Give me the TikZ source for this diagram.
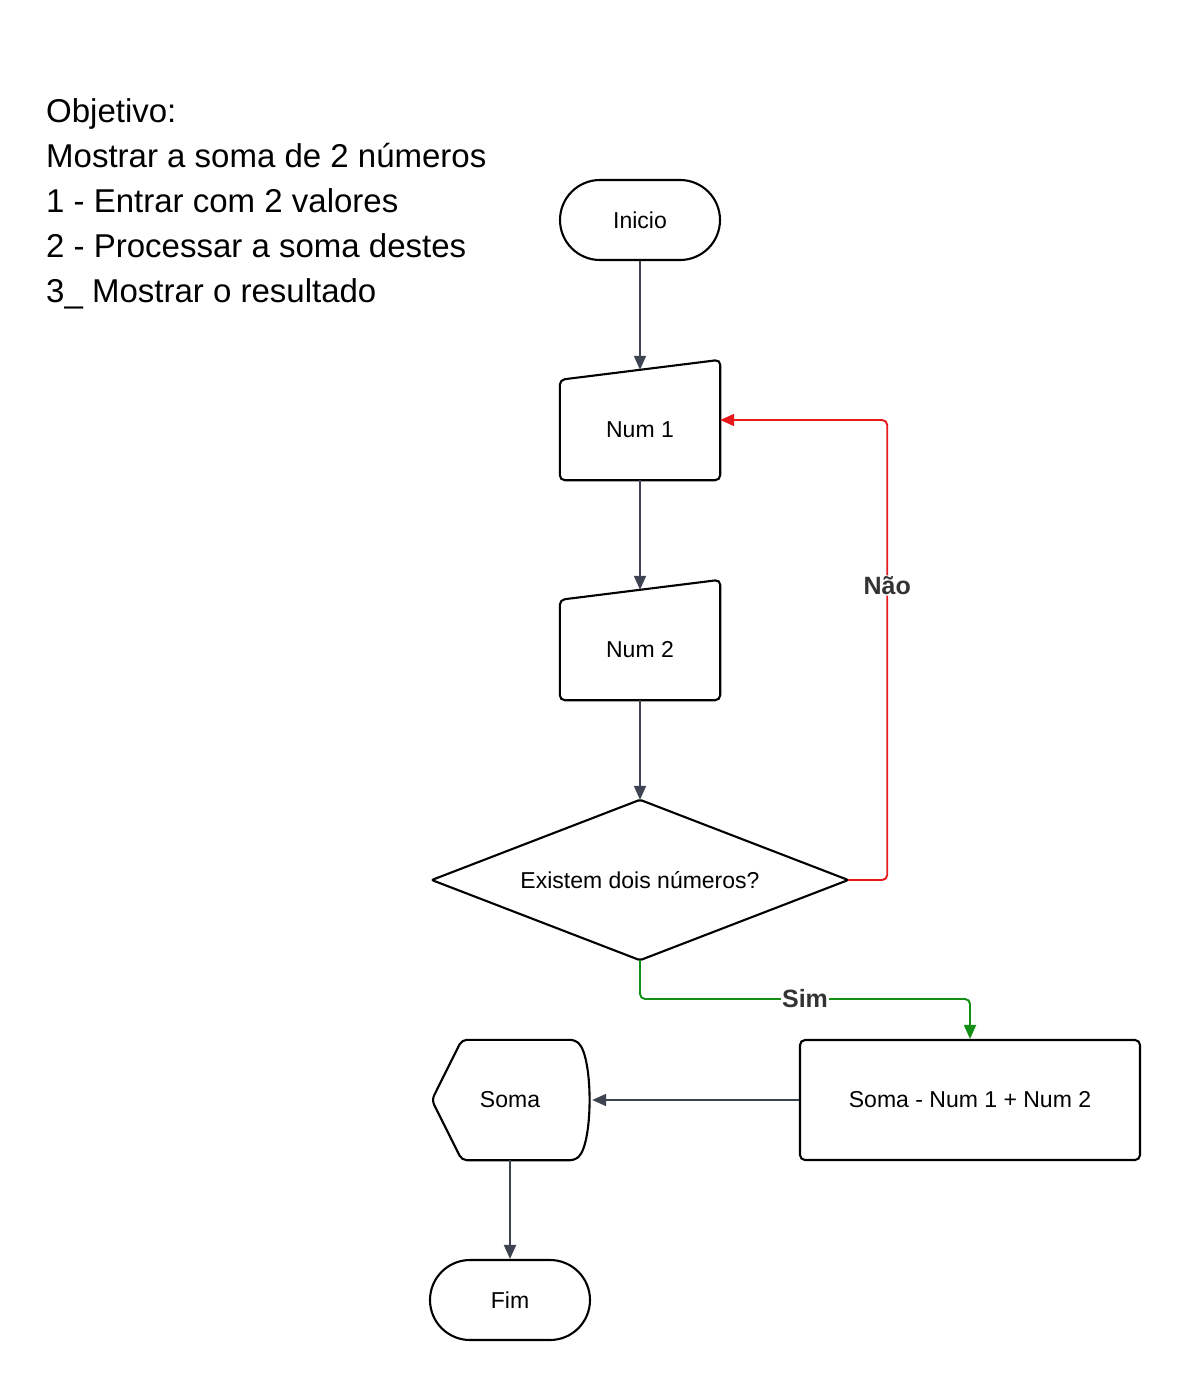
\documentclass[tikz,border=0pt]{standalone}
\usepackage{fontspec}
\setmainfont{Liberation Sans}
\usetikzlibrary{arrows.meta}
\definecolor{linegray}{HTML}{3D4350}
\definecolor{naored}{HTML}{E8191C}
\definecolor{simgreen}{HTML}{138F13}
\definecolor{labelgray}{HTML}{333333}

\tikzset{
  shapetext/.style={inner sep=0pt,font=\fontsize{23}{27}\selectfont},
  outline/.style={draw=black,line width=2.1pt,rounded corners=5pt},
  terminal/.style={shapetext,outline,minimum width=160pt,minimum height=80pt,rounded corners=40pt},
  process/.style={shapetext,outline,minimum width=340pt,minimum height=120pt},
  flow/.style={linegray,line width=1.9pt,-{Triangle[length=14pt,width=12pt]}},
  edgelabel/.style={fill=white,inner sep=1pt,text=labelgray,font=\fontsize{25}{30}\selectfont\bfseries}
}

\begin{document}
\begin{tikzpicture}[x=1pt,y=-1pt]
\useasboundingbox[fill=white] (0,0) rectangle (1180,1380);

% objetivo
\node[anchor=north west,inner sep=0pt,align=left,font=\fontsize{33}{45}\selectfont] (obj) at (46,98)
  {Objetivo:\\Mostrar a soma de 2 números\\1 - Entrar com 2 valores\\2 - Processar a soma destes\\3\_ Mostrar o resultado};

% nodes
\node[terminal] (ini) at (640,220) {Inicio};
\node[shapetext,minimum width=160pt,minimum height=100pt] (num1) at (640,430) {Num 1};
\node[shapetext,minimum width=160pt,minimum height=100pt] (num2) at (640,650) {Num 2};
\node[shapetext,minimum width=416pt,minimum height=160pt] (dec) at (640,880) {Existem dois números?};
\node[process] (soma) at (970,1100) {Soma - Num 1 + Num 2};
\node[shapetext,minimum width=160pt,minimum height=120pt] (disp) at (510,1100) {Soma};
\node[terminal] (fim) at (510,1300) {Fim};

% entradas manuais
\foreach \n in {num1,num2}{
  \draw[outline] (\n.south west) -- (\n.north west) -- ([yshift=20pt]\n.north east) -- (\n.south east) -- cycle;
  \coordinate (\n top) at ([yshift=10pt]\n.north);
}
% decisao
\draw[outline,rounded corners=2pt] (dec.west) -- (dec.north) -- (dec.east) -- (dec.south) -- cycle;
% exibicao
\draw[outline] ([xshift=2pt]disp.west) -- ([xshift=32pt]disp.north west) -- ([xshift=-15pt]disp.north east)
  .. controls ([xshift=3pt,yshift=-18pt]disp.north east) and ([xshift=3pt,yshift=18pt]disp.south east) .. ([xshift=-15pt]disp.south east)
  -- ([xshift=32pt]disp.south west) -- cycle;

% setas
\draw[flow] (ini) -- (num1top);
\draw[flow] (num1) -- (num2top);
\draw[flow] (num2) -- (dec.north);
\draw[flow,naored,rounded corners=5pt] (dec.east) -- ++(39,0) |- node[pos=0.32,edgelabel] {Não} ([yshift=10pt]num1.east);
\draw[flow,simgreen,rounded corners=5pt] (dec.south) |- node[pos=0.75,edgelabel] {Sim} ([yshift=40pt]soma.north) -- (soma.north);
\draw[flow] (soma) -- ([xshift=2pt]disp.east);
\draw[flow] (disp) -- (fim);
\end{tikzpicture}
\end{document}
